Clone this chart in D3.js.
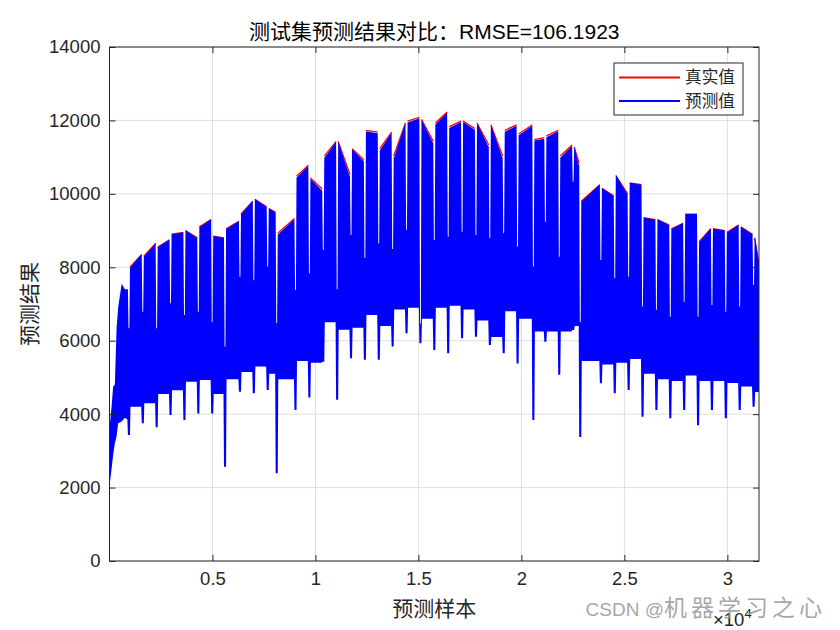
<!DOCTYPE html>
<html>
<head>
<meta charset="utf-8">
<script src="https://cdn.jsdelivr.net/npm/d3@7"></script>
<style>
  body { margin: 0; background: #fff; }
  svg text { font-family: "Liberation Sans", Arial, "Noto Sans CJK SC", sans-serif; }
</style>
</head>
<body>
<svg id="chart" width="840" height="630"></svg>
<script>
// Number of test samples on the x axis
const sampleCount = 31536;

const xTicks = [5000, 10000, 15000, 20000, 25000, 30000];
const xTickLabels = ['0.5', '1', '1.5', '2', '2.5', '3'];
const yTicks = [0, 2000, 4000, 6000, 8000, 10000, 12000, 14000];

// Start of the series, before the first weekly break
const headAt = [1, 100, 180, 260, 345, 420, 590, 750, 880];
const headHigh = [3600, 4200, 4750, 4800, 6350, 6900, 7550, 7400, 7400];
const headLow = [2050, 2500, 2900, 3200, 3400, 3750, 3800, 3900, 3850];

// Weekly breaks: sample index, bottom of the white notch, bottom of the dip
const gapAt = [945, 1617, 2291, 2965, 3639, 4313, 4987, 5610, 6335, 7009, 7683, 8120, 9031, 9705, 10379, 11053,
  11727, 12401, 13075, 13749, 14423, 15097, 15771, 16445, 17119, 17793, 18467, 19141, 19815, 20580, 21163, 21837,
  22511, 22857, 23859, 24533, 25207, 25881, 26555, 27229, 27903, 28577, 29251, 29925, 30599, 31273];
const gapNotch = [6340, 6790, 6340, 7020, 6700, 6790, 6500, 5840, 7740, 7650, 8020, 6480, 7380, 7840, 8470, 7400,
  8880, 8250, 8650, 8500, 9020, 6470, 8740, 8830, 8970, 8880, 8790, 8930, 8560, 8020, 9240, 8290,
  10330, 6500, 8200, 7700, 7740, 6930, 6840, 6650, 7060, 6650, 6970, 6790, 6930, 7520];
const gapDip = [3430, 3750, 3640, 3980, 3840, 4020, 4020, 2570, 4610, 4570, 4660, 2390, 4110, 4450, 5430, 4390,
  5520, 5480, 5480, 5840, 6200, 5930, 5750, 5660, 6070, 6110, 5880, 5660, 5380, 3840, 5970, 5070,
  6290, 3380, 4840, 4570, 4660, 3930, 4110, 3890, 4110, 3700, 4110, 3890, 4110, 4200];

// Each week after a break: top at its start / end, and the lower edge
const predTopL = [8000, 8300, 8550, 8900, 9000, 9100, 8850, 9050, 9450, 9850, 9600, 8900, 10450, 10400, 11000, 11400,
  11200, 11700, 11200, 11000, 11950, 12000, 11900, 11800, 11950, 11900, 11850, 11700, 11600, 11450, 11550, 11000,
  11250, 9800, 10150, 10500, 10300, 9350, 9300, 9050, 9450, 8700, 9050, 8950, 9100, 8800];
const predTopR = [8350, 8650, 8750, 8950, 8800, 9300, 8800, 9250, 9800, 9650, 9500, 9300, 10750, 10100, 11400, 10500,
  10900, 11650, 11650, 11900, 12050, 11400, 12200, 11950, 11750, 11300, 11000, 11850, 11850, 11500, 11700, 11300,
  10800, 10250, 9950, 10000, 10250, 9300, 9150, 9200, 9450, 9050, 9000, 9150, 8900, 8100];
const trueTopL = [8000, 8300, 8550, 8900, 9000, 9100, 8850, 9050, 9450, 9850, 9600, 8930, 10480, 10430, 11030, 11430,
  11230, 11730, 11230, 11030, 11980, 12030, 11930, 11830, 11980, 11930, 11880, 11730, 11630, 11480, 11580, 11030,
  11280, 9800, 10150, 10500, 10300, 9350, 9300, 9050, 9450, 8700, 9050, 8950, 9100, 8800];
const trueTopR = [8350, 8650, 8750, 8950, 8800, 9300, 8800, 9250, 9800, 9650, 9500, 9330, 10780, 10130, 11430, 10530,
  10930, 11680, 11680, 11930, 12080, 11430, 12230, 11980, 11780, 11330, 11030, 11880, 11880, 11530, 11730, 11330,
  10830, 10250, 9950, 10000, 10250, 9300, 9150, 9200, 9450, 9050, 9000, 9150, 8900, 8100];
const blockBase = [4200, 4300, 4550, 4650, 4880, 4930, 4550, 4950, 5150, 5300, 5100, 4950, 5450, 5400, 6500, 6300,
  6350, 6700, 6400, 6850, 6900, 6600, 6900, 6950, 6850, 6550, 6100, 6800, 6600, 6250, 6250, 6250,
  6400, 5450, 5350, 5400, 5500, 5100, 4950, 4900, 5050, 4900, 4900, 4850, 4750, 4600];

const margin = { top: 47, right: 81, bottom: 69, left: 109.5 };
const width = 840 - margin.left - margin.right;
const height = 630 - margin.top - margin.bottom;
const axisColor = '#262626';

const svg = d3.select('#chart');
const g = svg.append('g').attr('transform', `translate(${margin.left},${margin.top})`);

const x = d3.scaleLinear().domain([1, sampleCount]).range([0, width]);
const y = d3.scaleLinear().domain([0, 14000]).range([height, 0]);

// Grid lines
g.append('g')
  .selectAll('line')
  .data(xTicks)
  .join('line')
  .attr('x1', d => x(d)).attr('x2', d => x(d))
  .attr('y1', 0).attr('y2', height)
  .attr('stroke', '#dfdfdf').attr('stroke-width', 1);
g.append('g')
  .selectAll('line')
  .data(yTicks)
  .join('line')
  .attr('x1', 0).attr('x2', width)
  .attr('y1', d => y(d)).attr('y2', d => y(d))
  .attr('stroke', '#dfdfdf').attr('stroke-width', 1);

// Envelope of one series: weekly tops, notches and dips
function envelope(topL, topR) {
  const pts = headAt.map((s, i) => ({ s, hi: headHigh[i], lo: headLow[i] }));
  let prevTop = headHigh[headHigh.length - 1];
  let prevBase = headLow[headLow.length - 1];
  gapAt.forEach((gs, k) => {
    pts.push({ s: gs - 75, hi: prevTop, lo: prevBase });
    pts.push({ s: gs - 50, hi: prevTop, lo: gapDip[k] });
    pts.push({ s: gs - 20, hi: gapNotch[k], lo: gapDip[k] });
    pts.push({ s: gs + 20, hi: gapNotch[k], lo: gapDip[k] });
    pts.push({ s: gs + 50, hi: topL[k], lo: gapDip[k] });
    pts.push({ s: gs + 75, hi: topL[k], lo: blockBase[k] });
    prevTop = topR[k];
    prevBase = blockBase[k];
  });
  pts.push({ s: sampleCount, hi: prevTop, lo: prevBase });
  return pts;
}

// Top edge of each week, used for the true series
function topSegments(topL, topR) {
  return gapAt.map((gs, k) => {
    const end = k + 1 < gapAt.length ? gapAt[k + 1] - 50 : sampleCount;
    return [{ s: gs + 50, v: topL[k] }, { s: end, v: topR[k] }];
  });
}

const area = d3.area()
  .x(d => x(d.s))
  .y0(d => y(d.lo))
  .y1(d => y(d.hi));

const line = d3.line()
  .x(d => x(d.s))
  .y(d => y(d.v));

svg.append('clipPath').attr('id', 'plot-clip')
  .append('rect').attr('width', width).attr('height', height);

const plot = g.append('g').attr('clip-path', 'url(#plot-clip)');

// True values (red), drawn first
plot.append('g')
  .selectAll('path')
  .data(topSegments(trueTopL, trueTopR))
  .join('path')
  .attr('d', line)
  .attr('fill', 'none')
  .attr('stroke', '#ff0000')
  .attr('stroke-width', 1.3);

// Predicted values (blue) on top
plot.append('path')
  .datum(envelope(predTopL, predTopR))
  .attr('d', area)
  .attr('fill', '#0000ff')
  .attr('stroke', 'none');

// Axes box
g.append('rect')
  .attr('width', width).attr('height', height)
  .attr('fill', 'none').attr('stroke', axisColor).attr('stroke-width', 1);

// Bottom axis
g.append('g')
  .attr('transform', `translate(0,${height})`)
  .call(d3.axisBottom(x).tickValues(xTicks).tickFormat((d, i) => xTickLabels[i]).tickSize(-6).tickPadding(11));
// Top ticks
g.append('g')
  .call(d3.axisTop(x).tickValues(xTicks).tickFormat('').tickSize(-6));
// Left axis
g.append('g')
  .call(d3.axisLeft(y).tickValues(yTicks).tickFormat(d3.format('d')).tickSize(-6).tickPadding(9));
// Right ticks
g.append('g')
  .attr('transform', `translate(${width},0)`)
  .call(d3.axisRight(y).tickValues(yTicks).tickFormat('').tickSize(-6));

g.selectAll('.domain').remove();
g.selectAll('.tick line').attr('stroke', axisColor);
g.selectAll('.tick text')
  .attr('fill', axisColor)
  .style('font-size', '18.5px');

// Exponent label
const expo = svg.append('text')
  .attr('x', 713)
  .attr('y', 626)
  .attr('fill', axisColor)
  .style('font-size', '18.5px');
expo.append('tspan').text('×10');
expo.append('tspan').attr('dy', -8).style('font-size', '13px').text('4');

// Title
svg.append('text')
  .attr('x', margin.left + width / 2)
  .attr('y', 39)
  .attr('text-anchor', 'middle')
  .attr('fill', '#000')
  .style('font-size', '21px')
  .text('测试集预测结果对比：RMSE=106.1923');

// Axis labels
svg.append('text')
  .attr('x', margin.left + width / 2)
  .attr('y', 616)
  .attr('text-anchor', 'middle')
  .attr('fill', axisColor)
  .style('font-size', '21px')
  .text('预测样本');

svg.append('text')
  .attr('transform', `translate(37,${margin.top + height / 2}) rotate(-90)`)
  .attr('text-anchor', 'middle')
  .attr('fill', axisColor)
  .style('font-size', '21px')
  .text('预测结果');

// Legend
const legendData = [
  { name: '真实值', color: '#ff0000' },
  { name: '预测值', color: '#0000ff' }
];
const legend = svg.append('g').attr('transform', 'translate(614,63)');
legend.append('rect')
  .attr('width', 129).attr('height', 52)
  .attr('fill', '#fff').attr('stroke', axisColor).attr('stroke-width', 1);
legendData.forEach((d, i) => {
  const ly = 14.5 + i * 23.5;
  legend.append('line')
    .attr('x1', 5).attr('x2', 66)
    .attr('y1', ly).attr('y2', ly)
    .attr('stroke', d.color).attr('stroke-width', 2);
  legend.append('text')
    .attr('x', 71).attr('y', ly)
    .attr('dy', '0.35em')
    .attr('fill', axisColor)
    .style('font-size', '16.7px')
    .text(d.name);
});

// Watermark
const mark = svg.append('text')
  .attr('x', 826)
  .attr('y', 616)
  .attr('text-anchor', 'end')
  .attr('fill', 'rgba(150,150,150,0.85)')
  .style('font-size', '19px');
mark.append('tspan').text('CSDN @');
mark.append('tspan').style('font-size', '23px').style('letter-spacing', '4px').text('机器学习之心');
</script>
</body>
</html>
